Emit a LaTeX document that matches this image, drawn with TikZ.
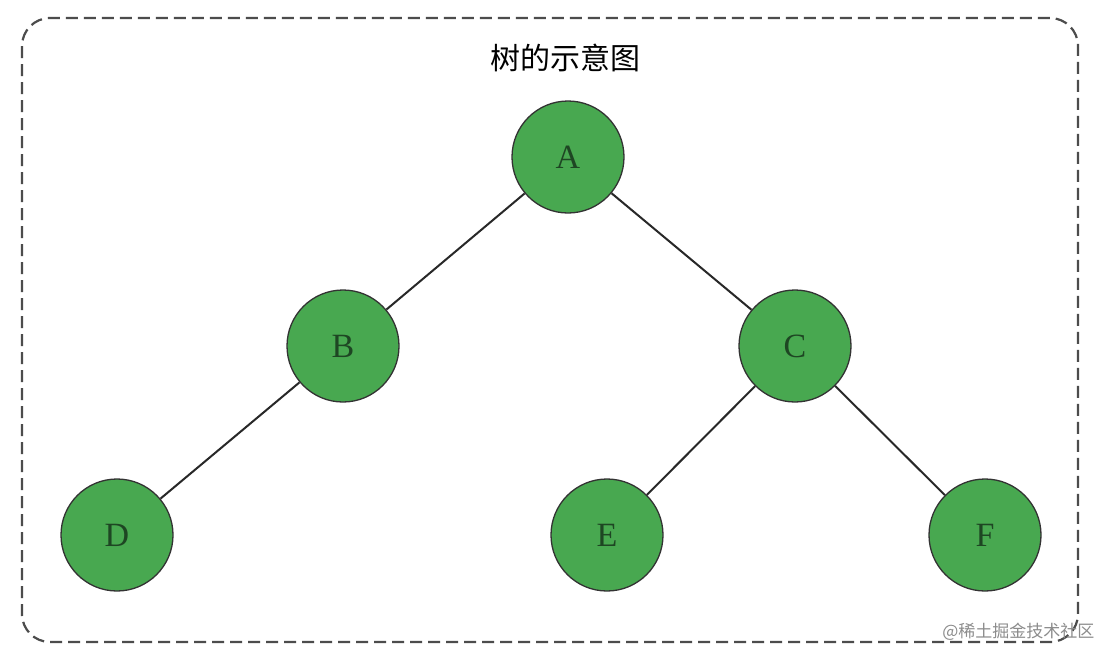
\documentclass[tikz,border=0pt]{standalone}
\usepackage{fontspec}
\setmainfont{Liberation Serif}
\newfontfamily\cjk{Noto Sans CJK SC}
\definecolor{nodegreen}{RGB}{72,168,80}
\definecolor{lettergreen}{RGB}{30,70,35}
\definecolor{edgecol}{RGB}{40,40,40}
\begin{document}
\begin{tikzpicture}[x=1pt,y=-1pt,
  treenode/.style={circle,draw=black!80,line width=1.3pt,fill=nodegreen,minimum size=112pt,inner sep=0pt,
     font=\fontsize{34}{34}\selectfont,text=lettergreen},
  edge/.style={draw=edgecol,line width=2pt}]
\useasboundingbox (0,0) rectangle (1100,662);
\fill[white] (0,0) rectangle (1100,662);
\draw[dashed,dash pattern=on 12pt off 6pt,line width=2.2pt,black!70,rounded corners=28pt] (22,18) rectangle (1078,642);
\node[font=\cjk\fontsize{30}{30}\selectfont] (title) at (565,58) {树的示意图};
\node[treenode] (A) at (568,157) {A};
\node[treenode] (B) at (343,346) {B};
\node[treenode] (C) at (795,346) {C};
\node[treenode] (D) at (117,535) {D};
\node[treenode] (E) at (607,535) {E};
\node[treenode] (F) at (985,535) {F};
\draw[edge] (A) -- (B);
\draw[edge] (A) -- (C);
\draw[edge] (B) -- (D);
\draw[edge] (C) -- (E);
\draw[edge] (C) -- (F);
\node[font=\cjk\fontsize{17}{17}\selectfont,text=black!45,anchor=east] (wm) at (1098,632) {@稀土掘金技术社区};
\end{tikzpicture}
\end{document}
